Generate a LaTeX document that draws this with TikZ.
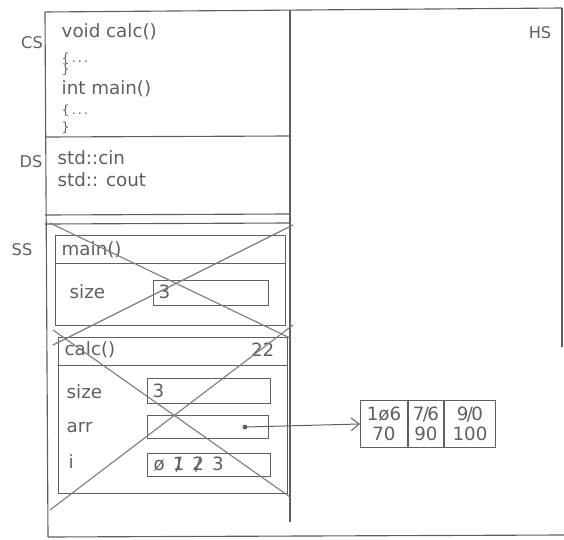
\documentclass[tikz,border=0pt]{standalone}
\usepackage{fontspec}
\setsansfont{DejaVu Sans}
\usepackage{tikz}
\usetikzlibrary{arrows.meta,positioning}
\definecolor{pencil}{RGB}{95,95,95}
\definecolor{lead}{RGB}{125,125,125}
\newcommand{\xo}[1]{\ooalign{#1\cr\hidewidth/\hidewidth\cr}}

\begin{document}
\begin{tikzpicture}[
  x=0.25mm, y=-0.25mm,
  font=\sffamily\fontsize{13}{14}\selectfont,
  wall/.style={draw=pencil, line width=0.8pt},
  slot/.style={draw=pencil, line width=0.7pt},
  cross/.style={draw=lead, line width=0.8pt},
  txt/.style={text=pencil, anchor=west, inner sep=1pt},
  seg/.style={text=pencil, font=\sffamily\fontsize{11.5}{13}\selectfont},
  cell/.style={draw=pencil, line width=0.7pt, minimum height=11.75mm, align=center,
               inner sep=1pt, text=pencil, font=\sffamily\fontsize{13}{14}\selectfont},
  arr/.style={-{Straight Barb[length=2mm,width=3.2mm]}, draw=pencil, line width=0.7pt},
]
  \useasboundingbox (0,0) rectangle (564,540);

  % Memory outline
  \draw[wall] (45,12) -- (562,8);
  \draw[wall] (45,12) -- (48,537);
  \draw[wall] (48,537) -- (564,535);
  \draw[wall] (290,10) -- (290,522);
  \draw[wall] (562,8) -- (562,347);
  \draw[wall] (45,137) -- (290,136);
  \draw[wall] (45,215) -- (290,214);
  \draw[wall] (45,224) -- (290,223);

  % Segment names
  \node[seg] (cs) at (32,43)  {CS};
  \node[seg] (ds) at (31,162) {DS};
  \node[seg] (ss) at (22,250) {SS};
  \node[seg] (hs) at (540,33) {HS};

  % Code and data segments
  \node[text=pencil, anchor=north west, align=left, inner sep=1pt] (code) at (60,22)
    {void calc()\\[3.5pt]{\small\{\,.\,.\,.}\\[-6pt]{\small\}}\\[1pt]int main()\\[0pt]%
     {\small\{\,.\,.\,.}\\[-2pt]{\small\}}};
  \node[text=pencil, anchor=north west, align=left, inner sep=1pt] (data) at (56,149)
    {std::cin\\[1.5pt]std:: cout};

  % Stack frame of main()
  \draw[slot] (55,235) rectangle (285,325);
  \draw[slot] (55,263) -- (285,263);
  \node[txt] (mname) at (60,250) {main()};
  \node[txt] (msize) at (68,292) {size};
  \draw[slot] (153,280) rectangle (268,305);
  \node[txt] (mval) at (157,292) {3};

  % Stack frame of calc()
  \draw[slot] (58,337) rectangle (287,493);
  \draw[slot] (58,365) -- (287,365);
  \node[txt] (cname) at (63,350) {calc()};
  \node[txt, anchor=east] (cline) at (276,350) {22};
  \node[txt] (csize) at (65,392) {size};
  \draw[slot] (147,378) rectangle (270,403);
  \node[txt] (cval) at (151,391) {3};
  \node[txt] (carr) at (65,428) {arr};
  \draw[slot] (147,415) rectangle (268,438);
  \coordinate (dot) at (245,427);
  \fill[pencil] (dot) circle (0.6mm);
  \node[txt] (ci) at (67,462) {i};
  \draw[slot] (147,453) rectangle (270,476);
  \node[txt] (ival) at (152,465)
    {\o\hspace{2mm}\xo{1}\hspace{2mm}\xo{2}\hspace{2mm}3};

  % Frames taken off the stack
  \draw[cross] (50,223) -- (290,338);
  \draw[cross] (293,225) -- (53,345);
  \draw[cross] (53,330) -- (290,497);
  \draw[cross] (293,325) -- (50,510);

  % Array on the heap
  \node[cell, minimum width=11.75mm, anchor=north west] (c1) at (360,400) {1\o6\\70};
  \node[cell, minimum width=8.75mm, right=0pt of c1] (c2) {7\kern-1.2pt/\kern-1.2pt6\\90};
  \node[cell, minimum width=12.75mm, right=0pt of c2] (c3) {9\kern-1.2pt/\kern-1.2pt0\\100};

  \draw[arr] (dot) -- (c1.west);
\end{tikzpicture}
\end{document}
